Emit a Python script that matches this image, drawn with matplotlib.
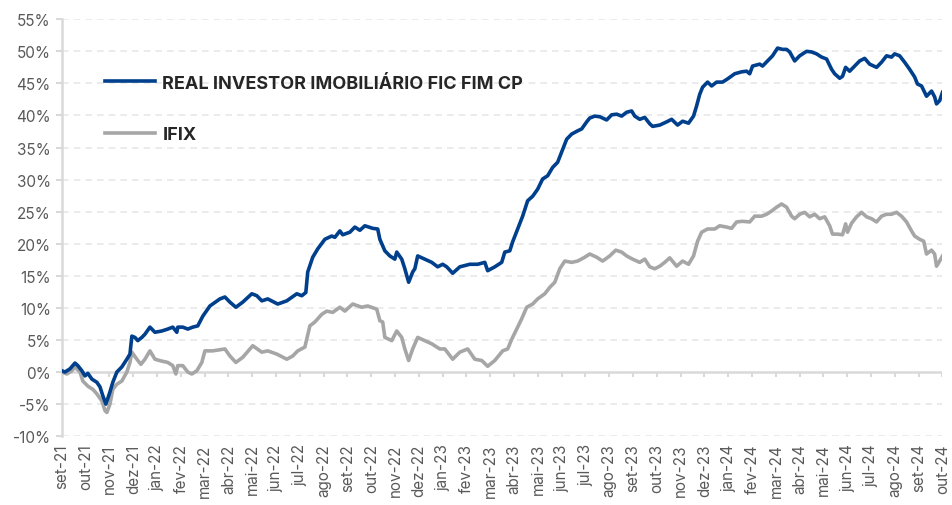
import matplotlib
matplotlib.use('Agg')
import matplotlib.pyplot as plt
from matplotlib.ticker import FuncFormatter, MultipleLocator

# months since set-21 (0 = set-21, 37 = out-24) and cumulative return in %
fund_t = [0.00, 0.13, 0.34, 0.55, 0.67, 0.84, 0.97, 1.09, 1.26, 1.47, 1.60, 1.72, 1.85,
          2.02, 2.14, 2.31, 2.52, 2.73, 2.86, 2.94, 3.07, 3.19, 3.36, 3.49, 3.70, 3.91,
          4.20, 4.45, 4.66, 4.83, 4.87, 5.08, 5.29, 5.50, 5.71, 5.92, 6.22, 6.64, 6.85,
          7.06, 7.31, 7.60, 7.98, 8.19, 8.40, 8.65, 9.07, 9.45, 9.87, 10.08, 10.25, 10.33,
          10.54, 10.75, 11.05, 11.34, 11.47, 11.68, 11.80, 12.10, 12.31, 12.52, 12.73,
          13.06, 13.27, 13.36, 13.57, 13.78, 13.99, 14.07, 14.28, 14.41, 14.57, 14.74,
          14.83, 14.95, 15.25, 15.54, 15.79, 16.00, 16.17, 16.42, 16.72, 17.14, 17.47,
          17.77, 17.89, 18.19, 18.48, 18.61, 18.82, 18.94, 19.15, 19.36, 19.57, 19.78,
          19.99, 20.20, 20.41, 20.62, 20.83, 21.00, 21.21, 21.42, 21.67, 21.84, 22.05,
          22.18, 22.39, 22.60, 22.89, 23.10, 23.31, 23.52, 23.73, 23.94, 24.07, 24.28,
          24.49, 24.70, 24.82, 25.12, 25.41, 25.62, 25.87, 26.08, 26.33, 26.54, 26.67,
          26.80, 26.92, 27.13, 27.30, 27.51, 27.76, 27.97, 28.27, 28.56, 28.77, 28.90,
          29.02, 29.32, 29.44, 29.65, 29.86, 30.07, 30.28, 30.45, 30.58, 30.79, 31.00,
          31.29, 31.50, 31.71, 31.92, 32.13, 32.34, 32.47, 32.68, 32.80, 32.93, 33.10,
          33.31, 33.52, 33.73, 33.94, 34.23, 34.44, 34.65, 34.86, 34.99, 35.20, 35.41,
          35.62, 35.83, 35.95, 36.12, 36.33, 36.54, 36.67, 36.75, 36.88, 37.00]
fund_v = [0.2, 0.0, 0.5, 1.4, 1.0, 0.2, -0.6, -0.2, -1.1, -1.6, -2.3, -3.7, -5.0,
          -3.1, -1.6, 0.0, 0.8, 2.0, 2.8, 5.6, 5.4, 4.9, 5.4, 5.9, 7.0, 6.2,
          6.4, 6.7, 7.0, 6.2, 7.0, 7.0, 6.7, 7.0, 7.2, 8.7, 10.3, 11.4, 11.7,
          10.9, 10.1, 10.9, 12.2, 11.9, 11.1, 11.4, 10.6, 11.1, 12.2, 11.9, 12.4, 15.6,
          17.9, 19.2, 20.7, 21.2, 21.0, 22.0, 21.4, 21.8, 22.6, 22.1, 22.8,
          22.4, 22.3, 20.7, 18.9, 18.1, 17.6, 18.7, 17.6, 16.1, 14.0, 15.6,
          16.1, 18.1, 17.6, 17.1, 16.4, 16.8, 16.4, 15.4, 16.4, 16.8, 16.8,
          17.1, 15.8, 16.4, 17.1, 18.7, 18.9, 20.3, 22.3, 24.3, 26.7, 27.4,
          28.5, 30.1, 30.6, 31.9, 32.7, 34.3, 36.3, 37.1, 37.6, 37.9, 39.0,
          39.6, 39.9, 39.8, 39.3, 40.1, 40.2, 39.9, 40.5, 40.7, 39.9, 39.4,
          39.7, 38.7, 38.3, 38.5, 39.0, 39.4, 38.5, 39.1, 38.8, 39.9, 41.5,
          43.3, 44.4, 45.2, 44.6, 45.2, 45.2, 45.7, 46.5, 46.8, 46.9, 46.5,
          47.7, 48.0, 47.7, 48.5, 49.3, 50.5, 50.3, 50.3, 49.9, 48.5, 49.3,
          50.0, 49.9, 49.6, 49.1, 48.8, 47.2, 46.5, 45.8, 46.1, 47.5, 46.9,
          47.7, 48.5, 48.9, 48.0, 47.5, 48.3, 49.3, 49.1, 49.6, 49.3, 48.3,
          47.2, 46.0, 44.9, 44.6, 43.0, 43.8, 42.9, 41.8, 42.3, 43.6]

ifix_t = [0.00, 0.21, 0.42, 0.55, 0.76, 0.88, 1.09, 1.30, 1.47, 1.68, 1.81, 1.89, 2.02,
          2.14, 2.31, 2.52, 2.73, 2.86, 2.94, 3.15, 3.32, 3.49, 3.70, 3.91, 4.20, 4.45,
          4.66, 4.79, 4.87, 5.08, 5.29, 5.46, 5.67, 5.88, 6.01, 6.34, 6.85, 7.06, 7.31,
          7.60, 8.02, 8.40, 8.65, 9.03, 9.45, 9.70, 9.91, 10.21, 10.42, 10.63, 10.92,
          11.13, 11.38, 11.68, 11.89, 12.22, 12.60, 12.85, 13.23, 13.36, 13.48, 13.57,
          13.86, 14.07, 14.28, 14.41, 14.57, 14.74, 14.95, 15.25, 15.54, 15.88, 16.09,
          16.42, 16.72, 17.05, 17.35, 17.64, 17.89, 18.19, 18.52, 18.73, 18.90, 19.11,
          19.32, 19.53, 19.78, 19.99, 20.29, 20.50, 20.71, 20.92, 21.13, 21.42, 21.67,
          21.97, 22.18, 22.47, 22.72, 23.02, 23.27, 23.52, 23.73, 23.98, 24.28, 24.49,
          24.70, 24.91, 25.12, 25.33, 25.54, 25.83, 26.08, 26.33, 26.54, 26.71, 26.88,
          27.13, 27.43, 27.64, 27.93, 28.14, 28.35, 28.60, 28.90, 29.11, 29.40, 29.61,
          29.82, 30.03, 30.24, 30.45, 30.66, 30.79, 31.00, 31.21, 31.42, 31.63, 31.84,
          32.05, 32.26, 32.38, 32.59, 32.80, 32.93, 33.01, 33.18, 33.39, 33.60, 33.81,
          34.02, 34.23, 34.44, 34.65, 34.86, 35.07, 35.28, 35.49, 35.70, 35.83, 36.04,
          36.21, 36.33, 36.54, 36.67, 36.75, 36.88, 37.00]
ifix_v = [0.0, -0.3, 0.2, 0.8, 0.0, -1.4, -2.2, -2.7, -3.4, -4.5, -6.0, -6.3, -5.0,
          -2.7, -1.9, -1.4, 0.0, 1.5, 3.1, 2.0, 1.2, 2.0, 3.3, 2.0, 1.7, 1.5,
          1.0, -0.3, 1.0, 1.0, 0.0, -0.3, 0.2, 1.5, 3.3, 3.3, 3.6, 2.5, 1.5,
          2.3, 4.1, 3.1, 3.3, 2.8, 2.0, 2.5, 3.3, 3.9, 7.2, 7.8, 9.0,
          9.5, 9.3, 10.1, 9.5, 10.6, 10.1, 10.3, 9.8, 8.0, 7.8, 5.4,
          4.9, 6.4, 5.4, 3.6, 1.8, 3.6, 5.4, 4.9, 4.4, 3.6, 3.6,
          2.0, 3.1, 3.6, 2.0, 1.8, 0.9, 1.8, 3.3, 3.6, 5.1, 6.7,
          8.3, 10.1, 10.6, 11.4, 12.2, 13.2, 14.0, 16.1, 17.3, 17.1, 17.3,
          17.9, 18.4, 17.9, 17.3, 18.1, 19.0, 18.7, 18.1, 17.6, 17.1, 17.6,
          16.4, 16.1, 16.5, 17.1, 17.8, 16.5, 17.3, 16.8, 18.1, 20.4, 21.8,
          22.3, 22.3, 22.8, 22.6, 22.4, 23.4, 23.5, 23.4, 24.3, 24.3, 24.6,
          25.1, 25.7, 26.2, 25.7, 24.3, 23.9, 24.6, 24.9, 24.2, 24.6, 23.9,
          24.2, 22.8, 21.5, 21.5, 21.4, 23.1, 21.8, 23.2, 24.2, 24.9, 24.2,
          23.9, 23.4, 24.3, 24.6, 24.6, 24.9, 24.3, 23.4, 22.0, 21.2, 20.7,
          20.4, 18.4, 19.0, 18.4, 16.5, 17.3, 18.1]

month_abbr = ['jan', 'fev', 'mar', 'abr', 'mai', 'jun',
              'jul', 'ago', 'set', 'out', 'nov', 'dez']
tick_labels = []
for i in range(38):
    m = (8 + i) % 12
    yr = 21 + (8 + i) // 12
    tick_labels.append(f'{month_abbr[m]}-{yr}')

FUND_NAME = 'REAL INVESTOR IMOBILIÁRIO FIC FIM CP'
BLUE = '#003f8c'
GREY = '#a6a6a6'
AXIS = '#d9d9d9'
TXT = '#595959'

plt.rcParams['font.family'] = ['Inter', 'DejaVu Sans']

fig = plt.figure(figsize=(9.52, 5.06), dpi=100)
ax = fig.add_axes([0.065, 0.136, 0.925, 0.824])

ax.set_xlim(0, 37)
ax.set_ylim(-10, 55)

# grid
ax.yaxis.set_major_locator(MultipleLocator(5))
for y in range(-10, 60, 5):
    if y != 0:
        ax.axhline(y, color='#e8e8e8', lw=1.2, ls=(0, (4, 3)), zorder=0)

# zero axis with month ticks
ax.axhline(0, color=AXIS, lw=1.8, zorder=1)
ax.vlines(range(38), -0.85, 0, color=AXIS, lw=1.5, zorder=1)

ax.plot(ifix_t, ifix_v, color=GREY, lw=2.6, label='IFIX', zorder=3)
ax.plot(fund_t, fund_v, color=BLUE, lw=2.6, label=FUND_NAME, zorder=4)

for s in ['top', 'right', 'bottom']:
    ax.spines[s].set_visible(False)
ax.spines['left'].set_color(AXIS)
ax.spines['left'].set_linewidth(1.8)

ax.yaxis.set_major_formatter(FuncFormatter(lambda v, p: f'{v:.0f}%'))
ax.tick_params(axis='y', colors=AXIS, labelcolor=TXT, labelsize=11, length=4, width=1.5, pad=4)
ax.set_xticks(range(38))
ax.set_xticklabels(tick_labels, rotation=90)
ax.tick_params(axis='x', length=0, labelcolor=TXT, labelsize=11, pad=5)

handles, labels = ax.get_legend_handles_labels()
leg = ax.legend(handles[::-1], labels[::-1], loc='upper left', bbox_to_anchor=(0.030, 0.906),
                frameon=False, handlelength=2.8, handletextpad=0.4, labelspacing=1.9,
                prop={'weight': 'bold', 'size': 13})
for t in leg.get_texts():
    t.set_color('#262626')

plt.savefig('out.png', dpi=100, facecolor='white')
